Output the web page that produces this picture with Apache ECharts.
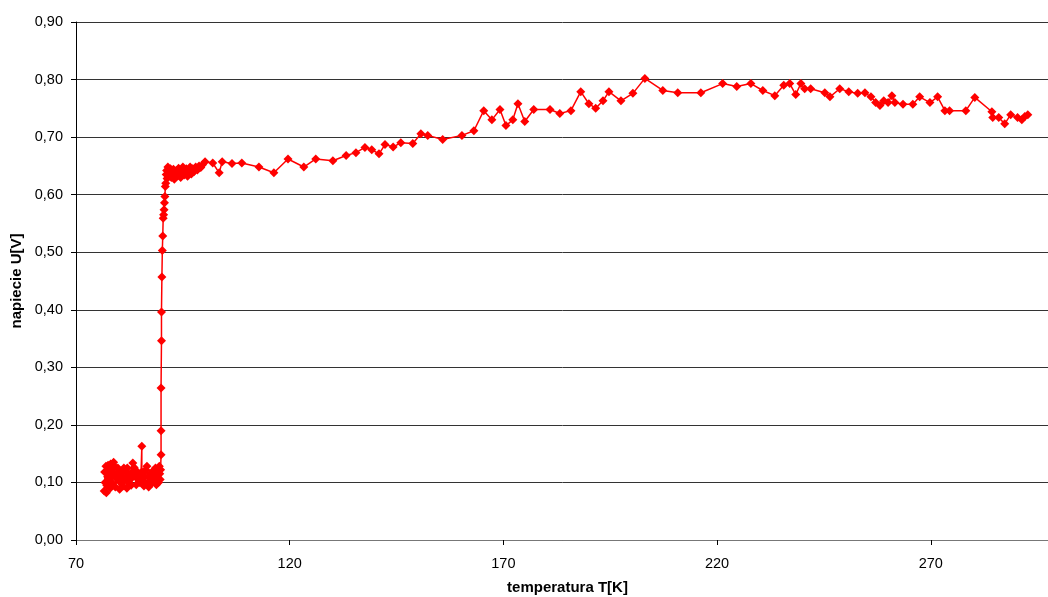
<!DOCTYPE html>
<html>
<head>
<meta charset="utf-8">
<script src="https://cdn.jsdelivr.net/npm/echarts@6/dist/echarts.min.js"></script>
<style>
html,body{margin:0;padding:0;background:#fff;}
.chart{width:1048px;height:597px;}
</style>
</head>
<body>
<div class="chart"></div>
<script>
// niskie temperatury (szum przed skokiem)
var lowT = [76.6,76.8,76.7,77.0,77.2,77.1,77.4,77.6,77.5,77.8,78.0,78.2,78.1,78.4,78.6,78.5,78.8,79.0,79.3,79.2,
	79.5,79.8,80.0,80.2,80.1,80.5,80.7,80.9,81.2,81.0,81.4,81.7,81.9,82.1,82.0,82.4,82.7,82.9,83.1,83.4,
	83.3,83.6,83.9,84.1,84.4,84.6,84.9,85.2,85.4,85.4,85.6,85.9,86.1,86.3,86.6,86.8,87.0,87.3,87.5,87.7,
	88.0,88.2,88.4,88.6,88.8,89.0,89.2,89.3,89.5,89.6,89.7,89.8];
var lowU = [0.085,0.100,0.118,0.128,0.095,0.082,0.110,0.125,0.130,0.105,0.090,0.118,0.132,0.112,0.098,0.122,0.135,0.128,0.108,0.092,
	0.115,0.125,0.103,0.088,0.112,0.120,0.098,0.110,0.125,0.094,0.105,0.118,0.090,0.112,0.125,0.100,0.115,0.095,0.108,0.120,
	0.134,0.126,0.110,0.096,0.118,0.105,0.100,0.112,0.163,0.118,0.104,0.094,0.110,0.122,0.128,0.100,0.092,0.115,0.108,0.098,
	0.120,0.112,0.102,0.125,0.096,0.110,0.118,0.100,0.128,0.115,0.105,0.122];
// skok napiecia
var riseT = [89.9,89.9,89.9,90.0,90.0,90.1,90.2,90.3,90.4,90.5,90.6,90.7,90.8,90.9,91.0];
var riseU = [0.148,0.190,0.264,0.346,0.396,0.457,0.503,0.528,0.559,0.565,0.574,0.586,0.597,0.614,0.620];
// plateau za skokiem
var plateauT = [91.1,91.3,91.2,91.5,91.7,91.9,92.1,92.3,92.6,92.8,93.0,93.3,93.5,93.8,94.0,94.3,94.5,94.8,95.0,95.3,
	95.6,95.8,96.1,96.4,96.7,97.0,97.3,97.6,98.0,98.4,98.8,99.2,99.6,100.2];
var plateauU = [0.635,0.628,0.642,0.648,0.632,0.640,0.645,0.630,0.638,0.644,0.627,0.636,0.642,0.633,0.646,0.638,0.630,0.641,0.648,0.634,
	0.640,0.645,0.632,0.642,0.648,0.636,0.645,0.640,0.648,0.643,0.650,0.647,0.652,0.657];
// wysokie temperatury
var highT = [102.0,103.5,104.2,106.5,108.8,112.8,116.3,119.6,123.3,126.1,130.1,133.2,135.5,137.6,139.2,140.9,142.3,144.2,146.0,148.8,
	150.7,152.3,155.8,160.3,163.1,165.4,167.3,169.2,170.6,172.2,173.4,175.0,177.1,180.9,183.2,185.8,188.1,190.0,191.6,193.3,
	194.7,197.5,200.3,203.1,207.3,210.8,216.2,221.3,224.6,227.9,230.7,233.5,235.6,237.0,238.4,239.6,240.5,241.9,245.2,246.4,
	248.7,250.8,252.9,254.6,256.0,257.1,258.1,259.0,260.0,260.9,261.6,263.5,265.8,267.4,269.8,271.6,273.3,274.4,278.2,280.3,
	284.3,284.5,285.9,287.3,288.7,290.3,291.3,292.0,292.7];
var highU = [0.655,0.638,0.657,0.654,0.655,0.648,0.638,0.662,0.648,0.662,0.659,0.668,0.673,0.682,0.678,0.671,0.687,0.683,0.690,0.689,
	0.706,0.703,0.696,0.703,0.711,0.746,0.730,0.748,0.720,0.730,0.758,0.727,0.748,0.748,0.741,0.746,0.779,0.758,0.750,0.763,
	0.779,0.763,0.776,0.802,0.781,0.777,0.777,0.793,0.788,0.793,0.781,0.772,0.790,0.793,0.774,0.793,0.784,0.784,0.777,0.770,
	0.784,0.779,0.776,0.777,0.770,0.760,0.755,0.763,0.760,0.772,0.760,0.757,0.757,0.770,0.760,0.770,0.746,0.746,0.746,0.769,
	0.744,0.734,0.734,0.723,0.739,0.734,0.730,0.736,0.739];

var xTitle = 'temperatura T[K]';
var yTitle = 'napiecie U[V]';

(function() {
	var tempK = lowT.concat(riseT, plateauT, highT);
	var volt = lowU.concat(riseU, plateauU, highU);
	var points = tempK.map(function(t, i) { return [t, volt[i]] });

	var myChart = echarts.init(document.querySelector('.chart'));
	var font = 'Liberation Sans, Arial, sans-serif';
	var option = {
		animation: false,
		grid: {
			left: 76,
			right: -11, //wykres wychodzi poza prawa krawedz
			top: 22,
			bottom: 57,
			outerBoundsMode: 'none',
			containLabel: false
		},
		xAxis: {
			type: 'value',
			min: 70,
			max: 300,
			interval: 50,
			name: xTitle,
			nameLocation: 'middle',
			nameGap: 40,
			nameTextStyle: { color: '#000', fontSize: 15, fontWeight: 'bold', fontFamily: font },
			axisLine: { onZero: false, lineStyle: { color: '#777', width: 1 } },
			axisTick: { show: true, length: 5, lineStyle: { color: '#000' } },
			axisLabel: { color: '#000', fontSize: 14.5, fontFamily: font, margin: 16, showMaxLabel: false },
			splitLine: { show: false }
		},
		yAxis: {
			type: 'value',
			min: 0,
			max: 0.9,
			interval: 0.1,
			name: yTitle,
			nameLocation: 'middle',
			nameGap: 49,
			nameTextStyle: { color: '#000', fontSize: 15, fontWeight: 'bold', fontFamily: font },
			axisLine: { show: true, lineStyle: { color: '#000', width: 1 } },
			axisTick: { show: true, length: 5, lineStyle: { color: '#000' } },
			axisLabel: {
				color: '#000', fontSize: 14.5, fontFamily: font, margin: 13,
				formatter: function(v) { return v.toFixed(2).replace('.', ',') }
			},
			splitLine: { show: true, lineStyle: { color: '#333', width: 1 } }
		},
		series: [{
			name: yTitle,
			type: 'line',
			data: points,
			symbol: 'diamond',
			symbolSize: 9,
			showAllSymbol: true,
			itemStyle: { color: '#ff0000' },
			lineStyle: { color: '#ff0000', width: 1.5 }
		}]
	};
	myChart.setOption(option);
	window.addEventListener('resize', function() {
		myChart.resize();
	});
})();
</script>
</body>
</html>
